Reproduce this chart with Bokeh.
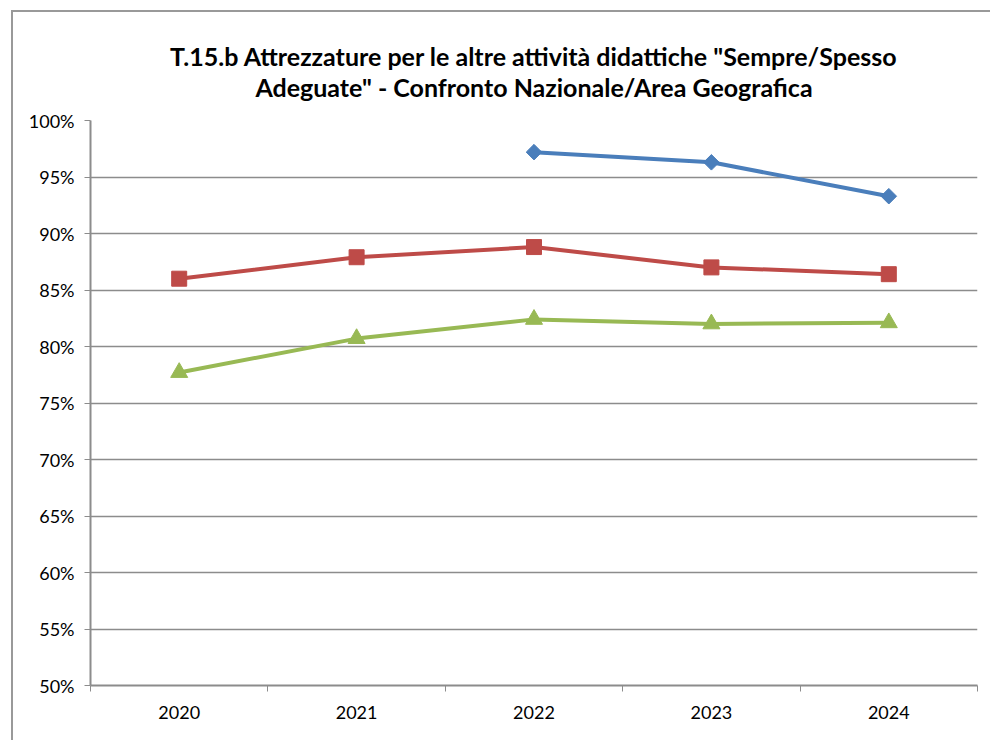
from bokeh.plotting import figure
from bokeh.models import FixedTicker, PrintfTickFormatter, Range1d, Title
from bokeh.embed import file_html
from bokeh.resources import INLINE
import math

years = ["2020", "2021", "2022", "2023", "2024"]
serie_blu = [None, None, 97.2, 96.3, 93.3]
serie_rossa = [86.0, 87.9, 88.8, 87.0, 86.4]
serie_verde = [77.7, 80.7, 82.4, 82.0, 82.1]
y_ticks = [50, 55, 60, 65, 70, 75, 80, 85, 90, 95, 100]

title_line1 = 'T.15.b Attrezzature per le altre attività didattiche "Sempre/Spesso'
title_line2 = 'Adeguate" - Confronto Nazionale/Area Geografica'

FONT = "Lato"
GRID = "#8c8c8c"

p = figure(width=979, height=730, output_backend="svg", toolbar_location=None,
           x_range=Range1d(0, len(years)), y_range=Range1d(50, 100))
p.styles = {"margin-left": "11px", "margin-top": "10px",
            "border-left": "2px solid #999999", "border-top": "2px solid #999999"}
p.min_border_left = 77
p.min_border_right = 15
p.min_border_top = 108
p.min_border_bottom = 57
p.outline_line_color = None
p.background_fill_color = "white"
p.border_fill_color = "white"

def style_title(t, text, standoff):
    t.text = text
    t.align = "center"
    t.text_font = FONT
    t.text_font_style = "bold"
    t.text_font_size = "25px"
    t.text_color = "black"
    t.standoff = standoff

# p.title sits on the outside, the added title sits next to the plot
style_title(p.title, title_line1, -38)
t2 = Title()
style_title(t2, title_line2, 37)
p.add_layout(t2, "above")

xs = [i + 0.5 for i in range(len(years))]

def series(vals, color, marker, size, angle=0.0):
    px = [x for x, v in zip(xs, vals) if v is not None]
    py = [v for v in vals if v is not None]
    p.line(px, py, line_color=color, line_width=4)
    p.scatter(px, py, marker=marker, size=size, fill_color=color, line_color=color, angle=angle)

series(serie_blu, "#4a7ebb", "square", 11, math.pi / 4)
series(serie_rossa, "#be4b48", "square", 15)
series(serie_verde, "#98b954", "triangle", 17)

# x axis
xa = p.xaxis[0]
xa.ticker = FixedTicker(ticks=xs, minor_ticks=list(range(len(years) + 1)))
xa.major_label_overrides = {x: y for x, y in zip(xs, years)}
xa.major_tick_line_color = None
xa.major_tick_out = 0
xa.major_tick_in = 0
xa.minor_tick_line_color = GRID
xa.minor_tick_out = 6
xa.minor_tick_in = 0
xa.axis_line_color = GRID
xa.axis_line_width = 2
xa.major_label_text_font = FONT
xa.major_label_text_font_size = "18px"
xa.major_label_text_color = "black"
xa.major_label_standoff = 14

# y axis
ya = p.yaxis[0]
ya.ticker = FixedTicker(ticks=y_ticks, minor_ticks=[])
ya.formatter = PrintfTickFormatter(format="%d%%")
ya.major_tick_line_color = GRID
ya.major_tick_out = 6
ya.major_tick_in = 0
ya.minor_tick_line_color = None
ya.axis_line_color = GRID
ya.axis_line_width = 2
ya.major_label_text_font = FONT
ya.major_label_text_font_size = "18px"
ya.major_label_text_color = "black"
ya.major_label_standoff = 10

p.xgrid.grid_line_color = None
p.ygrid.grid_line_color = GRID
p.ygrid.grid_line_width = 1.5
p.ygrid.ticker = FixedTicker(ticks=y_ticks[1:])

open("out.html", "w").write(file_html(p, INLINE))
